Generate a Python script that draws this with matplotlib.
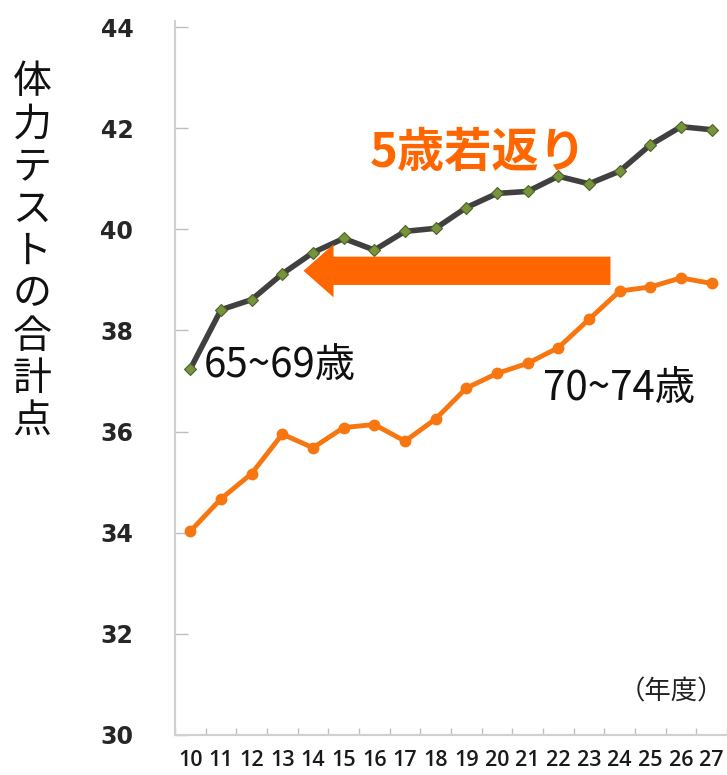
import numpy as np
import matplotlib
matplotlib.use("Agg")
from matplotlib import pyplot as plt
from matplotlib import patches

years = ["10", "11", "12", "13", "14", "15", "16", "17", "18",
         "19", "20", "21", "22", "23", "24", "25", "26", "27"]
score_65_69 = [37.24, 38.41, 38.61, 39.12, 39.54, 39.82, 39.59, 39.96, 40.02,
               40.43, 40.71, 40.75, 41.05, 40.90, 41.15, 41.67, 42.03, 41.97]
score_70_74 = [34.03, 34.67, 35.17, 35.95, 35.68, 36.08, 36.14, 35.81, 36.25,
               36.86, 37.15, 37.35, 37.66, 38.22, 38.78, 38.86, 39.04, 38.93]
y_ticks = [30, 32, 34, 36, 38, 40, 42, 44]

ORANGE = "#FF6600"
JP = ["Noto Sans CJK JP", "DejaVu Sans"]

fig = plt.figure(figsize=(7.27, 7.75), dpi=100)
ax = fig.add_axes([175 / 727, 40 / 775, 552 / 727, 714 / 775])

x = np.arange(len(years))
ax.plot(x, score_70_74, color="#F7760F", lw=3.5, marker="o", ms=7.5,
        mfc="#F7760F", mec="#F7760F", zorder=3)
ax.plot(x, score_65_69, color="#404040", lw=4, marker="D", ms=6.5,
        mfc="#77933C", mec="#4F6228", mew=0.8, zorder=4)

ax.set_xlim(-0.5, len(years) - 0.5)
ax.set_ylim(30, 44.12)

# category axis: labels in the middle, ticks between
ax.set_xticks(x)
ax.set_xticklabels(years, fontfamily="Open Sans", fontweight="semibold",
                   fontsize=15.5, color="#1a1a1a")
ax.set_xticks(np.arange(-0.5, len(years)), minor=True)
ax.tick_params(axis="x", which="major", length=0, pad=11)
ax.tick_params(axis="x", which="minor", direction="in", length=5,
               color="#bfbfbf", width=1)

ax.set_yticks(y_ticks)
ax.set_yticklabels([str(v) for v in y_ticks], fontfamily="DejaVu Sans",
                   fontweight="bold", fontsize=17, color="#262626")
ax.tick_params(axis="y", direction="in", length=9, color="#bfbfbf",
               width=1, pad=30)

for s in ["top", "right"]:
    ax.spines[s].set_visible(False)
for s in ["left", "bottom"]:
    ax.spines[s].set_color("#d0d0d0")
    ax.spines[s].set_linewidth(1.5)

# arrow: 5 years younger
arrow = patches.FancyArrow(13.7, 39.18, -10.01, 0, width=0.56,
                           head_width=1.05, head_length=0.98,
                           length_includes_head=True, color=ORANGE,
                           lw=0, zorder=5)
ax.add_patch(arrow)

ax.text(9.4, 41.5, "5歳若返り", family=JP, fontweight="bold", fontsize=34,
        color=ORANGE, ha="center", va="center")
ax.text(0.45, 37.3, "65~69歳", family=JP, fontsize=29, color="#111111",
        ha="left", va="center")
ax.text(11.5, 36.86, "70~74歳", family=JP, fontsize=29, color="#111111",
        ha="left", va="center")
ax.text(17.4, 30.85, "（年度）", family=JP, fontsize=19, color="#222222",
        ha="right", va="center")

fig.text(32 / 727, 1 - 252 / 775, "\n".join("体力テストの合計点"), family=JP,
         fontsize=28, ha="center", va="center", linespacing=1.08,
         color="#111111")

fig.savefig("out.png", dpi=100)
